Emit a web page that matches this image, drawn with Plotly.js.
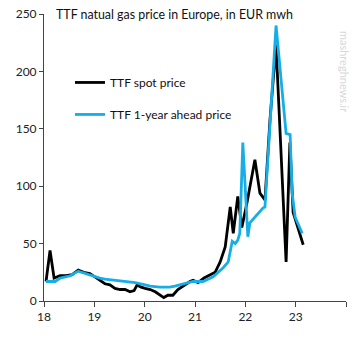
<!DOCTYPE html>
<html><head><meta charset="utf-8">
<script src="https://cdn.plot.ly/plotly-3.0.1.min.js"></script>
<style>html,body{margin:0;padding:0;background:#fff;}#chart{width:360px;height:338px;}</style>
</head><body><div id="chart"></div>
<script>
// Spot price (decimal year, EUR/MWh)
var spotDates = [2018.04,2018.12,2018.20,2018.32,2018.44,2018.56,2018.68,2018.79,2018.91,2019.01,2019.11,2019.21,2019.31,2019.41,2019.51,2019.61,2019.71,2019.79,2019.85,2019.93,2020.01,2020.11,2020.21,2020.30,2020.38,2020.46,2020.56,2020.66,2020.76,2020.90,2020.96,2021.06,2021.18,2021.30,2021.40,2021.50,2021.60,2021.70,2021.76,2021.85,2021.93,2022.03,2022.19,2022.29,2022.39,2022.49,2022.61,2022.81,2022.885,2022.95,2023.05,2023.15];
var spotValues = [17,44,20,22,22,23,27,25,24,21,18,15,14,11,10,10,8,9,14,12,11,10,8,5,3,5,5,10,13,17,18,16,20,23,25,34,47,82,59,91,64,85,123,94,88,158,223,34,138,77,62,49];
// 1-year ahead price
var aheadDates = [2018.04,2018.22,2018.32,2018.52,2018.68,2018.81,2018.91,2019.01,2019.11,2019.21,2019.41,2019.61,2019.81,2020.01,2020.11,2020.30,2020.50,2020.60,2020.76,2020.96,2021.16,2021.36,2021.56,2021.66,2021.74,2021.80,2021.85,2021.89,2021.95,2022.05,2022.09,2022.23,2022.35,2022.39,2022.61,2022.81,2022.89,2022.93,2022.99,2023.13];
var aheadValues = [17,17,20,22,26,24,23,21,20,19,18,17,16,14,13,12,12,13,15,17,17,21,29,34,52,50,53,59,138,56,68,75,81,82,240,146,145,94,73,59];
var tickVals = [2018,2019,2020,2021,2022,2023,2024];
var tickText = ['18','19','20','21','22','23',''];
var seriesNames = ['TTF spot price','TTF 1-year ahead price'];
var titleText = 'TTF natual gas price in Europe, in EUR mwh';

var FONT = 'Lato, "Open Sans", sans-serif';
var traces = [
  {x: spotDates, y: spotValues, name: seriesNames[0], type:'scatter', mode:'lines',
   line:{color:'#000000', width:2.8}, legendgroup:'a'},
  {x: aheadDates, y: aheadValues, name: seriesNames[1], type:'scatter', mode:'lines',
   line:{color:'#16aee6', width:2.8}, legendgroup:'b'}
];
var layout = {
  width:360, height:338,
  margin:{l:44, r:14, t:14, b:37},
  paper_bgcolor:'#fff', plot_bgcolor:'#fff',
  font:{family:FONT, size:12, color:'#222'},
  showlegend:true,
  legend:{x:0.086, y:0.812, xanchor:'left', yanchor:'top', bgcolor:'rgba(0,0,0,0)',
          font:{family:FONT, size:12, color:'#111'}, tracegroupgap:13, itemwidth:30},
  xaxis:{range:[2018,2024], tickmode:'array', tickvals:tickVals, ticktext:tickText,
         showgrid:false, zeroline:false, showline:true, linecolor:'#444', linewidth:1,
         ticks:'outside', ticklen:5, tickcolor:'#444', tickfont:{size:12, color:'#222'}, fixedrange:true},
  yaxis:{range:[0,250], tickvals:[0,50,100,150,200,250], showgrid:false, zeroline:false,
         showline:true, linecolor:'#444', linewidth:1, ticks:'outside', ticklen:4, tickcolor:'#444',
         tickfont:{size:12, color:'#222'}, fixedrange:true},
  annotations:[
    {text:titleText, xref:'paper', yref:'paper', x:0.033, y:1.0, xanchor:'left', yanchor:'middle',
     showarrow:false, font:{family:FONT, size:12.4, color:'#111'}},
    {text:'mashreghnews.ir', xref:'paper', yref:'paper', x:0.995, y:0.80, xanchor:'center', yanchor:'middle',
     textangle:90, showarrow:false, font:{family:FONT, size:11, color:'#d8d8d8'}}
  ]
};
Plotly.newPlot('chart', traces, layout, {displayModeBar:false, staticPlot:true});
</script></body></html>
